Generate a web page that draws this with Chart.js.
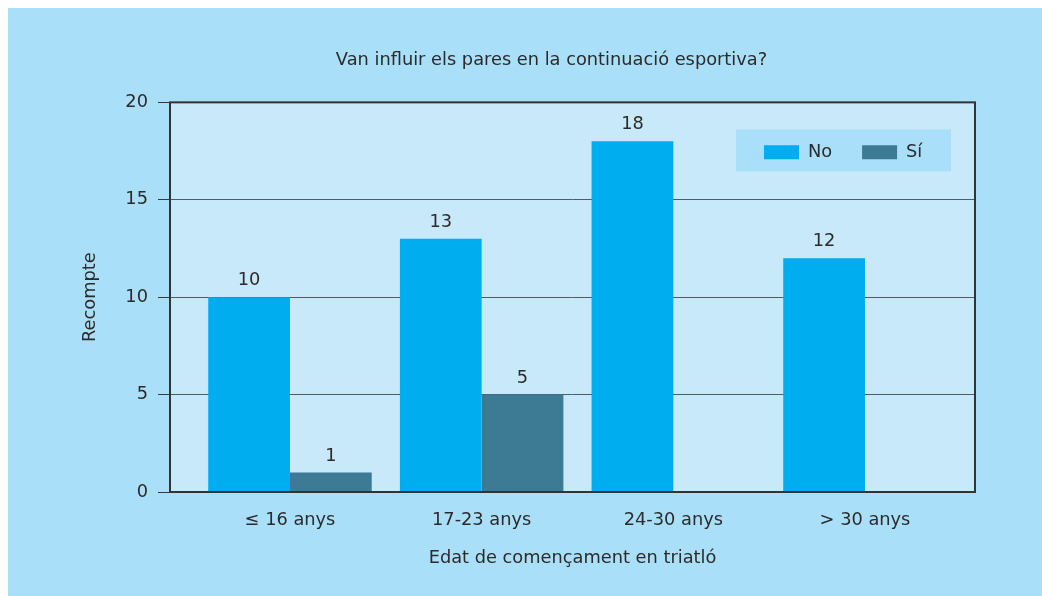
<!DOCTYPE html>
<html>
<head>
<meta charset="utf-8">
<script src="https://cdn.jsdelivr.net/npm/chart.js@4.4.1/dist/chart.umd.min.js"></script>
<style>
  html, body { margin: 0; padding: 0; background: #fff; }
  #wrap { position: absolute; left: 8px; top: 8px; width: 1034px; height: 588px; background: #aadff9; }
</style>
</head>
<body>
<div id="wrap"><canvas id="chart" width="1034" height="588"></canvas></div>
<script>
// data
const categories = ['≤ 16 anys', '17-23 anys', '24-30 anys', '> 30 anys'];
const seriesNames = ['No', 'Sí'];
const valuesNo = [10, 13, 18, 12];
const valuesSi = [1, 5, 0, 0];
const yTicks = [0, 5, 10, 15, 20];

const TEXT = '#2b2b2b';
const FONT_SIZE = 17.8;
Chart.defaults.font.family = "'DejaVu Sans', sans-serif";
Chart.defaults.font.size = FONT_SIZE;
Chart.defaults.color = TEXT;

// plot background, frame, legend box, value labels
const decor = {
    id: 'decor',
    afterInit(chart) {
        const lg = chart.legend;
        const fit = lg.fit;
        lg.fit = function () {
            fit.call(this);
            this._natH = this.height;
            this.height = 0;   // legend sits inside the plot, takes no room
        };
    },
    afterLayout(chart) {
        const a = chart.chartArea;
        chart.titleBlock.left += 30;
        chart.titleBlock.right += 30;
        const lg = chart.legend;
        lg.left = a.right - 241;
        lg.right = a.right;
        lg.top = a.top + 11;
        lg.bottom = lg.top + (lg._natH || 80);
    },
    beforeDraw(chart) {
        const { ctx, chartArea: a } = chart;
        ctx.save();
        ctx.fillStyle = '#c7e9f9';
        ctx.fillRect(a.left, a.top, a.right - a.left, a.bottom - a.top);
        ctx.fillStyle = '#aadff9';
        ctx.fillRect(a.right - 239, a.top + 27, 215, 42);
        ctx.restore();
    },
    afterDatasetsDraw(chart) {
        const { ctx, chartArea: a } = chart;
        ctx.save();
        ctx.font = FONT_SIZE + "px 'DejaVu Sans', sans-serif";
        ctx.fillStyle = TEXT;
        ctx.textAlign = 'center';
        ctx.textBaseline = 'alphabetic';
        chart.data.datasets.forEach(function (ds, i) {
            chart.getDatasetMeta(i).data.forEach(function (bar, j) {
                if (ds.data[j] > 0) ctx.fillText(String(ds.data[j]), bar.x, bar.y - 12);
            });
        });
        ctx.strokeStyle = '#333';
        ctx.lineWidth = 2;
        ctx.strokeRect(a.left, a.top, a.right - a.left, a.bottom - a.top);
        ctx.restore();
    }
};

const config = {
    type: 'bar',
    data: {
        labels: categories,
        datasets: [
            { label: seriesNames[0], data: valuesNo, backgroundColor: '#00adee', borderWidth: 0 },
            { label: seriesNames[1], data: valuesSi, backgroundColor: '#3d7a94', borderWidth: 0 }
        ]
    },
    options: {
        responsive: false,
        devicePixelRatio: 1,
        animation: false,
        layout: { padding: { left: 60, right: 67, top: 0, bottom: 0 } },
        datasets: { bar: { categoryPercentage: 0.853, barPercentage: 1.0 } },
        plugins: {
            legend: {
                position: 'top',
                align: 'start',
                labels: { boxWidth: 35, boxHeight: 14, padding: 30, color: TEXT }
            },
            title: {
                display: true,
                text: 'Van influir els pares en la continuació esportiva?',
                font: { size: FONT_SIZE, weight: 'normal' },
                color: TEXT,
                padding: { top: 42, bottom: 31 }
            },
            tooltip: { enabled: false }
        },
        scales: {
            x: {
                grid: { display: false, drawTicks: false },
                border: { display: false },
                ticks: { padding: 18, color: TEXT },
                title: { display: true, text: 'Edat de començament en triatló', color: TEXT, padding: { top: 0, bottom: 26.5 } },
                afterFit(s) { s.height = 104; },
                // category centres are not spread over the full plot width
                afterBuildTicks(s) { s._startValue = -0.626; s._valueRange = 4.20; }
            },
            y: {
                min: yTicks[0],
                max: yTicks[yTicks.length - 1],
                afterBuildTicks(s) { s.ticks = yTicks.map(v => ({ value: v })); },
                grid: { color: '#4f5c63', lineWidth: 1, tickLength: 12, tickColor: '#3a3a3a' },
                border: { display: false },
                ticks: { padding: 10, color: TEXT },
                title: { display: true, text: 'Recompte', color: TEXT, padding: { top: 11.5, bottom: 0 } },
                afterFit(s) { s.width = 102; }
            }
        }
    },
    plugins: [decor]
};

var myChart = new Chart(document.getElementById('chart'), config);
</script>
</body>
</html>
